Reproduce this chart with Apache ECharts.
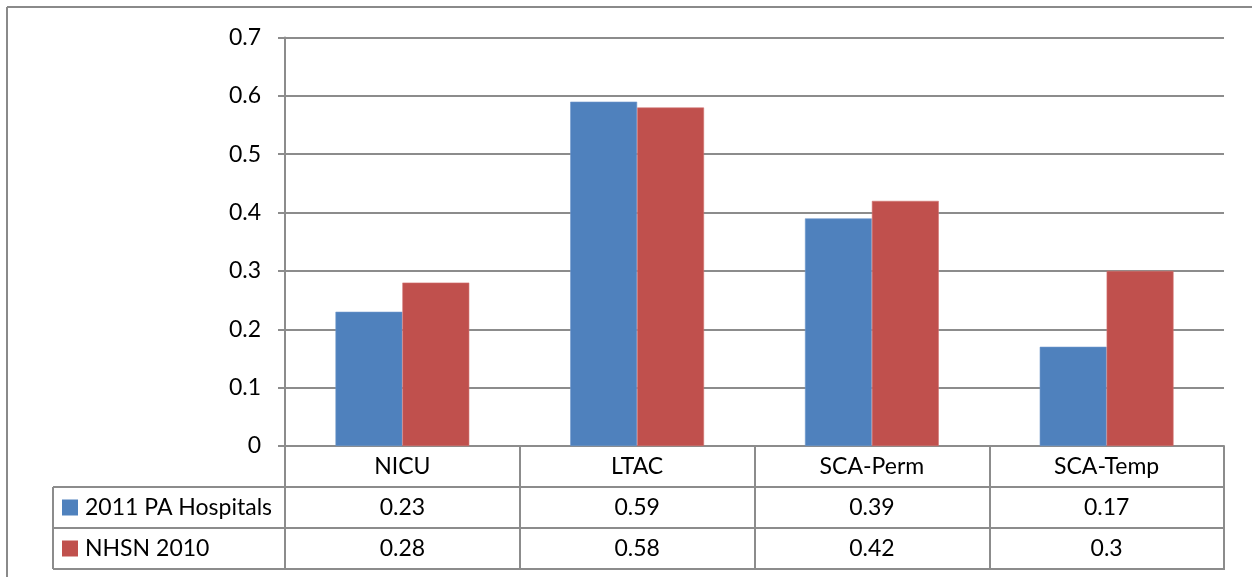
<!DOCTYPE html>
<html>
<head>
<meta charset="utf-8">
<script src="https://cdn.jsdelivr.net/npm/echarts@6/dist/echarts.min.js"></script>
<style>
  html, body { margin: 0; padding: 0; background: #fff; }
  #chart { width: 1252px; height: 577px; }
</style>
</head>
<body>
<div id="chart"></div>
<script>
// Unit categories and the two compared rates
const categories = ['NICU', 'LTAC', 'SCA-Perm', 'SCA-Temp'];
const seriesNames = ['2011 PA Hospitals', 'NHSN 2010'];
const paHospitals2011 = [0.23, 0.59, 0.39, 0.17];
const nhsn2010 = [0.28, 0.58, 0.42, 0.3];
const yTicks = [0, 0.1, 0.2, 0.3, 0.4, 0.5, 0.6, 0.7];

const colors = ['#4F81BD', '#C0504D'];
const lineColor = '#8C8C8C';
const FONT = 'Lato, "Open Sans", "Liberation Sans", sans-serif';
const FS = 23;

const chart = echarts.init(document.getElementById('chart'), null, { renderer: 'canvas' });

const grid = { left: 285, right: 28, top: 37.5, bottom: 131 };
const rowH = 41;

const option = {
  animation: false,
  backgroundColor: '#fff',
  grid: grid,
  xAxis: {
    type: 'category',
    data: categories,
    axisLine: { show: true, lineStyle: { color: lineColor, width: 2 } },
    axisTick: { show: true, length: 1 + rowH * 3, lineStyle: { color: lineColor, width: 2 } },
    axisLabel: { color: '#000', fontFamily: FONT, fontSize: FS, margin: 21, verticalAlign: 'middle' },
    splitLine: { show: false }
  },
  yAxis: {
    type: 'value',
    min: yTicks[0],
    max: yTicks[yTicks.length - 1],
    interval: 0.1,
    axisLine: { show: true, lineStyle: { color: lineColor, width: 2 } },
    axisTick: { show: true, length: 7, lineStyle: { color: lineColor, width: 2 } },
    axisLabel: {
      color: '#000', fontFamily: FONT, fontSize: FS, margin: 24,
      formatter: v => String(Math.round(v * 10) / 10)
    },
    splitLine: { show: true, lineStyle: { color: lineColor, width: 2 } }
  },
  series: [
    {
      name: seriesNames[0], type: 'bar', data: paHospitals2011,
      barGap: '0%', barCategoryGap: '43%',
      itemStyle: { color: colors[0], borderColor: '#6f97cb', borderWidth: 0.6 },
      silent: true
    },
    {
      name: seriesNames[1], type: 'bar', data: nhsn2010,
      barGap: '0%', barCategoryGap: '43%',
      itemStyle: { color: colors[1], borderColor: '#d27270', borderWidth: 0.6 },
      silent: true
    }
  ]
};
chart.setOption(option);

// Data table beneath the plot, positioned from the axis scales
function buildTable() {
  const x1 = 1252 - grid.right;
  const x0 = grid.left;
  const yAxisZero = chart.convertToPixel({ yAxisIndex: 0 }, 0);
  const legendLeft = 53;
  const rowTop = [yAxisZero + rowH, yAxisZero + rowH * 2];
  const tableBottom = yAxisZero + rowH * 3;
  const els = [];
  const ln = (xa, ya, xb, yb, w, c) => ({
    type: 'line', shape: { x1: xa, y1: ya, x2: xb, y2: yb },
    style: { stroke: c || lineColor, lineWidth: w || 2 }, silent: true
  });
  // outer frame (top and left edges)
  els.push(ln(7, 7, 1252, 7, 2, '#8A8A8A'));
  els.push(ln(7, 7, 7, 577, 2, '#8A8A8A'));
  // horizontal rules of the table
  els.push(ln(legendLeft, rowTop[0], x1, rowTop[0]));
  els.push(ln(legendLeft, rowTop[1], x1, rowTop[1]));
  els.push(ln(legendLeft, tableBottom, x1, tableBottom));
  els.push(ln(legendLeft, rowTop[0], legendLeft, tableBottom));
  els.push(ln(x0, rowTop[0], x0, tableBottom));

  const rows = [paHospitals2011, nhsn2010];
  rows.forEach((vals, r) => {
    const cy = rowTop[r] + rowH / 2;
    els.push({
      type: 'rect', shape: { x: 62, y: cy - 8, width: 16, height: 16 },
      style: { fill: colors[r] }, silent: true
    });
    els.push({
      type: 'text', x: 85, y: cy,
      style: { text: seriesNames[r], fill: '#000', font: FS + 'px ' + FONT, textAlign: 'left', textVerticalAlign: 'middle' },
      silent: true
    });
    vals.forEach((v, i) => {
      const cx = chart.convertToPixel({ xAxisIndex: 0 }, categories[i]);
      els.push({
        type: 'text', x: cx, y: cy,
        style: { text: String(v), fill: '#000', font: FS + 'px ' + FONT, textAlign: 'center', textVerticalAlign: 'middle' },
        silent: true
      });
    });
  });
  chart.setOption({ graphic: { elements: els } });
}
buildTable();
</script>
</body>
</html>
